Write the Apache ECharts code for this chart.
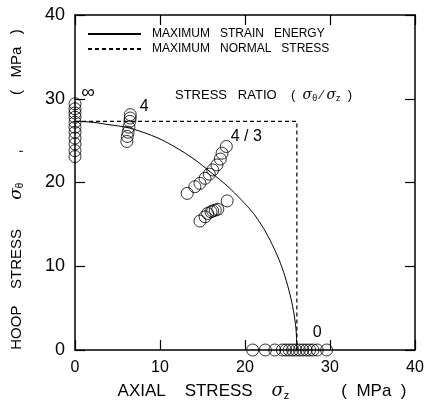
<!DOCTYPE html>
<html>
<head>
<meta charset="utf-8">
<script src="https://cdn.jsdelivr.net/npm/echarts@6/dist/echarts.min.js"></script>
<style>
  html, body { margin: 0; padding: 0; background: #fff; }
  #chart { width: 428px; height: 406px; }
</style>
</head>
<body>
<div id="chart"></div>
<script>
// Axis ticks (MPa)
const axisTicks = [0, 10, 20, 30, 40];

// Failure criteria in the axial / hoop stress plane (MPa)
const strainEnergyCurve = [
  [0, 27.3], [2, 27.2], [4, 26.9], [6, 26.6], [8, 26.0], [10, 25.2],
  [12, 24.1], [14, 22.8], [16, 21.2], [18, 19.5], [19.5, 18.0],
  [21, 16.3], [22.2, 14.5], [23.2, 12.6], [24.0, 10.8], [24.7, 8.8],
  [25.3, 6.6], [25.7, 4.7], [26.0, 2.5], [26.1, 0]
];
const normalStressBox = [[0, 27.3], [26.1, 27.3], [26.1, 0]];

// Measured failure stresses [sigma_z, sigma_theta] by stress ratio
const ratioInf = [
  [0, 23.1], [0, 23.8], [0, 24.6], [0, 25.3], [0, 26.0], [0, 26.6],
  [0, 27.2], [0, 27.8], [0, 28.3], [0, 28.8], [0, 29.4]
];
const ratio4 = [
  [6.1, 24.9], [6.15, 25.5], [6.25, 26.0], [6.35, 26.6], [6.45, 27.3],
  [6.5, 27.7], [6.5, 28.1]
];
const ratio4to3 = [
  [13.2, 18.7], [14.1, 19.5], [14.7, 19.9], [15.3, 20.5], [15.8, 21.0],
  [16.2, 21.5], [16.7, 22.1], [17.1, 22.8], [17.3, 23.5], [17.8, 24.3]
];
const ratio1 = [
  [14.7, 15.4], [15.3, 15.9], [15.6, 16.3], [16.0, 16.5], [16.2, 16.6],
  [16.5, 16.7], [16.8, 16.8], [17.9, 17.8]
];
const ratio0 = [
  [20.9, 0], [22.4, 0], [23.5, 0], [24.4, 0], [24.8, 0], [25.2, 0],
  [25.6, 0], [26.0, 0], [26.4, 0], [26.8, 0], [27.2, 0], [27.6, 0],
  [28.0, 0], [28.5, 0], [29.6, 0]
];

// Ratio tags and the point each one sits next to
const ratioLabels = ['\u221E', '4', '4 / 3', '', '0'];
const ratioGroups = [ratioInf, ratio4, ratio4to3, ratio1, ratio0];
const labelPointIndex = [10, 6, 9, -1, 13];
const labelOffsets = [[13, -11], [14, -8], [20, -10], [0, 0], [0, -17]];
const labelSizes = [19, 16, 16, 16, 16];

const INK = '#000';
const FONT = '"Liberation Sans", Arial, Helvetica, sans-serif';

const chart = echarts.init(document.getElementById('chart'), null, { renderer: 'canvas' });

const scatterSeries = ratioGroups.map((pts, gi) => ({
  type: 'scatter',
  symbol: 'circle',
  symbolSize: 12,
  clip: false,
  z: 3,
  itemStyle: { color: 'rgba(255,255,255,0)', borderColor: INK, borderWidth: 1 },
  emphasis: { disabled: true },
  data: pts.map((p, i) => {
    const item = { value: p };
    if (i === labelPointIndex[gi]) {
      item.label = {
        show: true,
        formatter: ratioLabels[gi],
        position: 'inside',
        offset: labelOffsets[gi],
        color: '#000',
        opacity: 1,
        textBorderWidth: 0,
        fontWeight: 'normal',
        fontFamily: FONT,
        fontSize: labelSizes[gi]
      };
    }
    return item;
  })
}));

function rich(size, gSize, subSize, subDrop) {
  return {
    t: { fontFamily: FONT, fontWeight: 'normal', color: INK, fontSize: size },
    g: { fontFamily: '"DejaVu Serif", serif', fontStyle: 'italic', fontWeight: 'normal', color: INK, fontSize: gSize },
    sub: { fontFamily: FONT, fontWeight: 'normal', color: INK, fontSize: subSize, padding: [subDrop, 0, 0, 0] }
  };
}

const axisBase = {
  type: 'value', min: axisTicks[0], max: axisTicks[axisTicks.length - 1], interval: 10,
  axisLine: { show: true, onZero: false, lineStyle: { color: INK, width: 1.5 } },
  axisTick: { show: true, inside: true, length: 10, lineStyle: { color: INK, width: 1.2 } },
  splitLine: { show: false }
};

const option = {
  backgroundColor: '#fff',
  animation: false,
  color: [INK, INK],
  grid: { left: 75, right: 13, top: 15, bottom: 54, containLabel: false },
  title: {
    left: 175, top: 88, padding: 0,
    text: '{t|STRESS   RATIO    (  }{g|\u03C3}{sub|\u03B8}{t| \u2044 }{g|\u03C3}{sub|z}{t|  )}',
    textStyle: { fontWeight: 'normal', rich: rich(13, 14, 9, 6) }
  },
  legend: {
    left: 87, top: 28, padding: 0, orient: 'vertical',
    itemWidth: 53, itemHeight: 14, itemGap: 3,
    itemStyle: { opacity: 0 },
    data: ['MAXIMUM STRAIN ENERGY', 'MAXIMUM NORMAL STRESS'],
    formatter: n => n.split(' ').join('   '),
    textStyle: { fontFamily: FONT, fontSize: 12, color: INK, padding: [0, 0, 0, 6] }
  },
  xAxis: [
    Object.assign({}, axisBase, {
      position: 'bottom',
      axisLabel: { margin: 10, fontFamily: FONT, fontSize: 16, color: INK },
      name: '{t|AXIAL    STRESS    }{g|\u03C3}{sub|z}{t|           (  MPa  )}',
      nameLocation: 'middle', nameGap: 32,
      nameTextStyle: { padding: [0, 0, 0, 34], rich: rich(17, 18, 11, 8) }
    }),
    Object.assign({}, axisBase, { position: 'top', axisLabel: { show: false } })
  ],
  yAxis: [
    Object.assign({}, axisBase, {
      position: 'left',
      axisLabel: { margin: 10, fontFamily: FONT, fontSize: 18, color: INK },
      name: '{t|HOOP    STRESS       }{g|\u03C3}{sub|\u03B8}{t|       ,             (   MPa   )}',
      nameLocation: 'middle', nameGap: 50, nameRotate: 90,
      nameTextStyle: { padding: [0, 14, 0, 0], rich: rich(15, 17, 10, 7) }
    }),
    Object.assign({}, axisBase, { position: 'right', axisLabel: { show: false } })
  ],
  series: [
    {
      name: 'MAXIMUM STRAIN ENERGY',
      type: 'line', smooth: 0.3, symbol: 'none', z: 2,
      lineStyle: { color: INK, width: 1, type: 'solid' },
      data: strainEnergyCurve
    },
    {
      name: 'MAXIMUM NORMAL STRESS',
      type: 'line', symbol: 'none', z: 2,
      lineStyle: { color: INK, width: 1.2, type: [4, 3] },
      data: normalStressBox
    }
  ].concat(scatterSeries)
};

chart.setOption(option);
</script>
</body>
</html>
